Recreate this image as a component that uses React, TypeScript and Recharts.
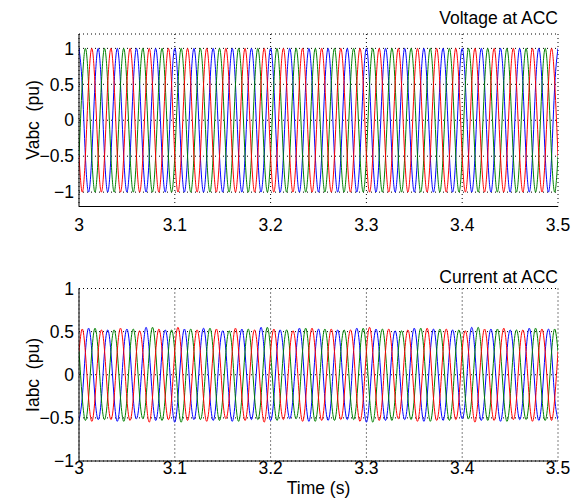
import { CartesianGrid, Line, LineChart, XAxis, YAxis } from "recharts";

// sampled every 1/300 s (60 deg of a 50 Hz wave) starting at t = 3 s
const T_START = 3;
const T_STEP = 1 / 300;

const TIME_TICKS = [3, 3.1, 3.2, 3.3, 3.4, 3.5];
const V_TICKS = [-1, -0.5, 0, 0.5, 1];
const I_TICKS = [-1, -0.5, 0, 0.5, 1];

const V_BLUE = [
  1, 0.5, -0.5, -1, -0.5, 0.5, 1, 0.5, -0.5, -1, -0.5, 0.5, 1, 0.5, -0.5, -1, -0.5, 0.5,
  1, 0.5, -0.5, -1, -0.5, 0.5, 1, 0.5, -0.5, -1, -0.5, 0.5, 1, 0.5, -0.5, -1, -0.5, 0.5,
  1, 0.5, -0.5, -1, -0.5, 0.5, 1, 0.5, -0.5, -1, -0.5, 0.5, 1, 0.5, -0.5, -1, -0.5, 0.5,
  1, 0.5, -0.5, -1, -0.5, 0.5, 1, 0.5, -0.5, -1, -0.5, 0.5, 1, 0.5, -0.5, -1, -0.5, 0.5,
  1, 0.5, -0.5, -1, -0.5, 0.5, 1, 0.5, -0.5, -1, -0.5, 0.5, 1, 0.5, -0.5, -1, -0.5, 0.5,
  1, 0.5, -0.5, -1, -0.5, 0.5, 1, 0.5, -0.5, -1, -0.5, 0.5, 1, 0.5, -0.5, -1, -0.5, 0.5,
  1, 0.5, -0.5, -1, -0.5, 0.5, 1, 0.5, -0.5, -1, -0.5, 0.5, 1, 0.5, -0.5, -1, -0.5, 0.5,
  1, 0.5, -0.5, -1, -0.5, 0.5, 1, 0.5, -0.5, -1, -0.5, 0.5, 1, 0.5, -0.5, -1, -0.5, 0.5,
  1, 0.5, -0.5, -1, -0.5, 0.5, 1,
];
const V_GREEN = [
  -0.5, 0.5, 1, 0.5, -0.5, -1, -0.5, 0.5, 1, 0.5, -0.5, -1, -0.5, 0.5, 1, 0.5, -0.5, -1,
  -0.5, 0.5, 1, 0.5, -0.5, -1, -0.5, 0.5, 1, 0.5, -0.5, -1, -0.5, 0.5, 1, 0.5, -0.5, -1,
  -0.5, 0.5, 1, 0.5, -0.5, -1, -0.5, 0.5, 1, 0.5, -0.5, -1, -0.5, 0.5, 1, 0.5, -0.5, -1,
  -0.5, 0.5, 1, 0.5, -0.5, -1, -0.5, 0.5, 1, 0.5, -0.5, -1, -0.5, 0.5, 1, 0.5, -0.5, -1,
  -0.5, 0.5, 1, 0.5, -0.5, -1, -0.5, 0.5, 1, 0.5, -0.5, -1, -0.5, 0.5, 1, 0.5, -0.5, -1,
  -0.5, 0.5, 1, 0.5, -0.5, -1, -0.5, 0.5, 1, 0.5, -0.5, -1, -0.5, 0.5, 1, 0.5, -0.5, -1,
  -0.5, 0.5, 1, 0.5, -0.5, -1, -0.5, 0.5, 1, 0.5, -0.5, -1, -0.5, 0.5, 1, 0.5, -0.5, -1,
  -0.5, 0.5, 1, 0.5, -0.5, -1, -0.5, 0.5, 1, 0.5, -0.5, -1, -0.5, 0.5, 1, 0.5, -0.5, -1,
  -0.5, 0.5, 1, 0.5, -0.5, -1, -0.5,
];
const V_RED = [
  -0.5, -1, -0.5, 0.5, 1, 0.5, -0.5, -1, -0.5, 0.5, 1, 0.5, -0.5, -1, -0.5, 0.5, 1, 0.5,
  -0.5, -1, -0.5, 0.5, 1, 0.5, -0.5, -1, -0.5, 0.5, 1, 0.5, -0.5, -1, -0.5, 0.5, 1, 0.5,
  -0.5, -1, -0.5, 0.5, 1, 0.5, -0.5, -1, -0.5, 0.5, 1, 0.5, -0.5, -1, -0.5, 0.5, 1, 0.5,
  -0.5, -1, -0.5, 0.5, 1, 0.5, -0.5, -1, -0.5, 0.5, 1, 0.5, -0.5, -1, -0.5, 0.5, 1, 0.5,
  -0.5, -1, -0.5, 0.5, 1, 0.5, -0.5, -1, -0.5, 0.5, 1, 0.5, -0.5, -1, -0.5, 0.5, 1, 0.5,
  -0.5, -1, -0.5, 0.5, 1, 0.5, -0.5, -1, -0.5, 0.5, 1, 0.5, -0.5, -1, -0.5, 0.5, 1, 0.5,
  -0.5, -1, -0.5, 0.5, 1, 0.5, -0.5, -1, -0.5, 0.5, 1, 0.5, -0.5, -1, -0.5, 0.5, 1, 0.5,
  -0.5, -1, -0.5, 0.5, 1, 0.5, -0.5, -1, -0.5, 0.5, 1, 0.5, -0.5, -1, -0.5, 0.5, 1, 0.5,
  -0.5, -1, -0.5, 0.5, 1, 0.5, -0.5,
];

const I_BLUE = [
  -0.53, -0.27, 0.26, 0.54, 0.28, -0.26, -0.52, -0.28, 0.27, 0.52, 0.26, -0.27,
  -0.54, -0.26, 0.28, 0.53, 0.27, -0.28, -0.51, -0.27, 0.26, 0.55, 0.27, -0.26,
  -0.53, -0.28, 0.27, 0.52, 0.28, -0.27, -0.55, -0.26, 0.26, 0.53, 0.26, -0.28,
  -0.52, -0.27, 0.28, 0.54, 0.27, -0.26, -0.53, -0.28, 0.27, 0.51, 0.28, -0.27,
  -0.54, -0.27, 0.26, 0.53, 0.26, -0.27, -0.52, -0.26, 0.27, 0.55, 0.27, -0.28,
  -0.53, -0.28, 0.28, 0.52, 0.27, -0.26, -0.51, -0.27, 0.26, 0.54, 0.28, -0.27,
  -0.54, -0.26, 0.27, 0.53, 0.26, -0.28, -0.53, -0.28, 0.27, 0.52, 0.27, -0.27,
  -0.52, -0.27, 0.28, 0.54, 0.28, -0.26, -0.55, -0.27, 0.26, 0.53, 0.27, -0.27,
  -0.53, -0.26, 0.27, 0.51, 0.26, -0.28, -0.52, -0.28, 0.28, 0.54, 0.27, -0.27,
  -0.54, -0.27, 0.26, 0.53, 0.28, -0.26, -0.53, -0.27, 0.27, 0.52, 0.27, -0.27,
  -0.51, -0.28, 0.27, 0.55, 0.26, -0.28, -0.53, -0.26, 0.28, 0.53, 0.27, -0.27,
  -0.54, -0.27, 0.26, 0.52, 0.28, -0.26, -0.52, -0.28, 0.27, 0.54, 0.27, -0.27,
  -0.53, -0.27, 0.27, 0.53, 0.26, -0.28, -0.52,
];
const I_GREEN = [
  0.28, -0.26, -0.53, -0.27, 0.26, 0.54, 0.27, -0.28, -0.52, -0.26, 0.27, 0.52,
  0.26, -0.27, -0.54, -0.28, 0.28, 0.53, 0.27, -0.26, -0.51, -0.27, 0.26, 0.55,
  0.28, -0.27, -0.53, -0.26, 0.27, 0.52, 0.26, -0.28, -0.55, -0.27, 0.28, 0.53,
  0.27, -0.26, -0.52, -0.28, 0.27, 0.54, 0.28, -0.27, -0.53, -0.27, 0.26, 0.51,
  0.27, -0.28, -0.54, -0.26, 0.27, 0.53, 0.26, -0.27, -0.52, -0.27, 0.28, 0.55,
  0.27, -0.26, -0.53, -0.28, 0.26, 0.52, 0.28, -0.27, -0.51, -0.27, 0.27, 0.54,
  0.26, -0.28, -0.54, -0.26, 0.28, 0.53, 0.27, -0.27, -0.53, -0.27, 0.27, 0.52,
  0.28, -0.26, -0.52, -0.28, 0.26, 0.54, 0.27, -0.27, -0.55, -0.27, 0.27, 0.53,
  0.26, -0.28, -0.53, -0.26, 0.28, 0.51, 0.27, -0.27, -0.52, -0.27, 0.26, 0.54,
  0.28, -0.26, -0.54, -0.28, 0.27, 0.53, 0.27, -0.27, -0.53, -0.27, 0.28, 0.52,
  0.26, -0.28, -0.51, -0.26, 0.27, 0.55, 0.27, -0.27, -0.53, -0.27, 0.26, 0.53,
  0.28, -0.26, -0.54, -0.28, 0.27, 0.52, 0.27, -0.27, -0.52, -0.27, 0.28, 0.54,
  0.26, -0.28, -0.53, -0.26, 0.27, 0.53, 0.27,
];
const I_RED = [
  0.27, 0.53, 0.26, -0.27, -0.54, -0.28, 0.26, 0.52, 0.28, -0.26, -0.52, -0.27,
  0.28, 0.54, 0.27, -0.28, -0.53, -0.26, 0.27, 0.51, 0.26, -0.27, -0.55, -0.27,
  0.26, 0.53, 0.28, -0.26, -0.52, -0.28, 0.28, 0.55, 0.27, -0.27, -0.53, -0.26,
  0.27, 0.52, 0.26, -0.28, -0.54, -0.27, 0.26, 0.53, 0.28, -0.27, -0.51, -0.28,
  0.27, 0.54, 0.27, -0.26, -0.53, -0.27, 0.28, 0.52, 0.26, -0.27, -0.55, -0.26,
  0.26, 0.53, 0.27, -0.28, -0.52, -0.27, 0.27, 0.51, 0.28, -0.26, -0.54, -0.28,
  0.28, 0.54, 0.26, -0.27, -0.53, -0.26, 0.27, 0.53, 0.27, -0.27, -0.52, -0.27,
  0.26, 0.52, 0.28, -0.28, -0.54, -0.28, 0.27, 0.55, 0.26, -0.26, -0.53, -0.27,
  0.28, 0.53, 0.27, -0.27, -0.51, -0.26, 0.27, 0.52, 0.26, -0.28, -0.54, -0.27,
  0.26, 0.54, 0.28, -0.27, -0.53, -0.28, 0.27, 0.53, 0.27, -0.26, -0.52, -0.27,
  0.28, 0.51, 0.26, -0.27, -0.55, -0.26, 0.27, 0.53, 0.27, -0.28, -0.53, -0.27,
  0.26, 0.54, 0.28, -0.26, -0.52, -0.28, 0.27, 0.52, 0.27, -0.27, -0.54, -0.27,
  0.28, 0.53, 0.26, -0.27, -0.53, -0.26, 0.27,
];

const voltageData = V_BLUE.map((v, i) => ({
  t: T_START + i * T_STEP,
  a: v,
  b: V_GREEN[i],
  c: V_RED[i],
}));
const currentData = I_BLUE.map((v, i) => ({
  t: T_START + i * T_STEP,
  a: v,
  b: I_GREEN[i],
  c: I_RED[i],
}));

const FONT = "'Liberation Sans', Arial, Helvetica, sans-serif";
const FS = 17.5;
const tickStyle = { fill: "#000", fontSize: FS, fontFamily: FONT };
const minus = (v: number) => (v < 0 ? "\u2212" + Math.abs(v) : String(v));

function Panel({
  data,
  yDomain,
  yTicks,
  height,
  top,
  xLabelGap,
}: {
  data: Array<{ t: number; a: number; b: number; c: number }>;
  yDomain: [number, number];
  yTicks: number[];
  height: number;
  top: number;
  xLabelGap: number;
}) {
  return (
    <LineChart
      width={576}
      height={height}
      data={data}
      margin={{ top, right: 18, left: 0, bottom: 0 }}
    >
      <CartesianGrid stroke="#000" strokeDasharray="1 3" strokeWidth={1} />
      {/* labelled axes, no tick lines */}
      <XAxis
        dataKey="t"
        type="number"
        domain={[3, 3.5]}
        ticks={TIME_TICKS}
        allowDataOverflow
        height={height - top - 172.5}
        tickLine={false}
        tickSize={0}
        tickMargin={xLabelGap}
        tick={tickStyle}
        tickFormatter={(v) => String(v)}
        stroke="#000"
        interval={0}
      />
      <YAxis
        type="number"
        domain={yDomain}
        ticks={yTicks}
        allowDataOverflow
        width={79}
        tickLine={false}
        tickSize={0}
        tickMargin={5}
        tick={tickStyle}
        tickFormatter={minus}
        stroke="#000"
        interval={0}
      />
      {/* mirrored axes give the inward ticks on all four sides */}
      <XAxis
        xAxisId="bottomTicks"
        orientation="bottom"
        mirror
        type="number"
        dataKey="t"
        domain={[3, 3.5]}
        ticks={TIME_TICKS}
        allowDataOverflow
        height={0}
        tickSize={5}
        tick={false}
        axisLine={false}
        stroke="#000"
      />
      <XAxis
        xAxisId="top"
        orientation="top"
        mirror
        type="number"
        dataKey="t"
        domain={[3, 3.5]}
        ticks={TIME_TICKS}
        allowDataOverflow
        height={0}
        tickSize={5}
        tick={false}
        stroke="#000"
      />
      <YAxis
        yAxisId="leftTicks"
        orientation="left"
        mirror
        type="number"
        domain={yDomain}
        ticks={yTicks}
        allowDataOverflow
        width={0}
        tickSize={5}
        tick={false}
        axisLine={false}
        stroke="#000"
      />
      <YAxis
        yAxisId="right"
        orientation="right"
        mirror
        type="number"
        domain={yDomain}
        ticks={yTicks}
        allowDataOverflow
        width={0}
        tickSize={5}
        tick={false}
        stroke="#000"
      />
      <Line type="natural" dataKey="a" stroke="#0000ff" strokeWidth={1} dot={false} isAnimationActive={false} />
      <Line type="natural" dataKey="b" stroke="#008000" strokeWidth={1} dot={false} isAnimationActive={false} />
      <Line type="natural" dataKey="c" stroke="#ff0000" strokeWidth={1} dot={false} isAnimationActive={false} />
    </LineChart>
  );
}

const textBase: React.CSSProperties = {
  position: "absolute",
  fontFamily: FONT,
  fontSize: FS,
  lineHeight: "20px",
  color: "#000",
  whiteSpace: "pre",
};

export default function App() {
  return (
    <div style={{ position: "absolute", left: 0, top: 0, width: 576, height: 503, background: "#fff" }}>
      <div style={{ position: "absolute", left: 0, top: 0 }}>
        <Panel data={voltageData} yDomain={[-1.2, 1.2]} yTicks={V_TICKS} height={250} top={34} xLabelGap={12.5} />
      </div>
      <div style={{ position: "absolute", left: 0, top: 250 }}>
        <Panel data={currentData} yDomain={[-1, 1]} yTicks={I_TICKS} height={253} top={38.5} xLabelGap={1} />
      </div>
      <div style={{ ...textBase, right: 18, top: 8 }}>Voltage at ACC</div>
      <div style={{ ...textBase, right: 18, top: 267 }}>Current at ACC</div>
      <div style={{ ...textBase, left: 33, top: 120, transform: "translate(-50%, -50%) rotate(-90deg)" }}>
        {"Vabc  (pu)"}
      </div>
      <div style={{ ...textBase, left: 33, top: 375, transform: "translate(-50%, -50%) rotate(-90deg)" }}>
        {"Iabc  (pu)"}
      </div>
      <div style={{ ...textBase, left: 318.5, top: 478, transform: "translateX(-50%)" }}>Time (s)</div>
    </div>
  );
}
